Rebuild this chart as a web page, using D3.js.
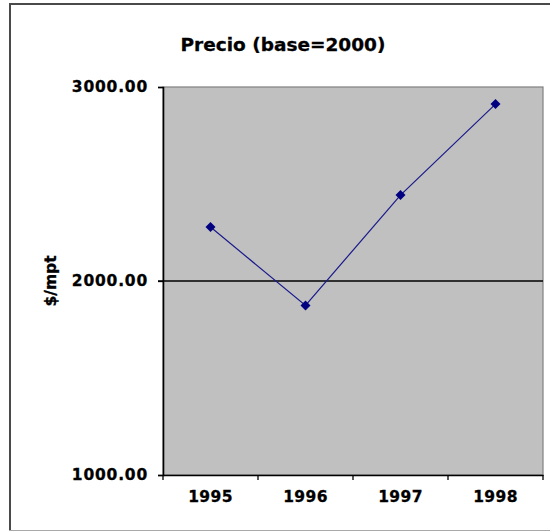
<!DOCTYPE html>
<html>
<head>
<meta charset="utf-8">
<script src="https://cdn.jsdelivr.net/npm/d3@7/dist/d3.min.js"></script>
<style>
  html, body { margin: 0; padding: 0; background: #ffffff; }
  svg { display: block; }
</style>
</head>
<body>
<svg id="chart" width="550" height="531"></svg>
<script>
const categories = ["1995", "1996", "1997", "1998"];
const values = [2278, 1874, 2443, 2912];
const yTicks = [1000, 2000, 3000];
const gridValues = [2000];
const title = "Precio (base=2000)";
const yTitle = "$/mpt";

const svg = d3.select("#chart");
const W = 550, H = 531;
const margin = { left: 163, top: 87, right: 7, bottom: 56 };
const plotW = W - margin.left - margin.right;
const plotH = H - margin.top - margin.bottom;

svg.append("rect").attr("x", 0).attr("y", 0).attr("width", W).attr("height", H).attr("fill", "#ffffff");

// outer frame
svg.append("line").attr("x1", 10).attr("x2", 10).attr("y1", 3).attr("y2", 530)
  .attr("stroke", "#4a4a4a").attr("stroke-width", 2);
svg.append("line").attr("x1", 9).attr("x2", 560).attr("y1", 4).attr("y2", 4)
  .attr("stroke", "#4a4a4a").attr("stroke-width", 2);
svg.append("line").attr("x1", 9).attr("x2", 560).attr("y1", 530.5).attr("y2", 530.5)
  .attr("stroke", "#a8a8a8").attr("stroke-width", 1);

const font = "'DejaVu Sans', sans-serif";

svg.append("text").attr("x", 283).attr("y", 51)
  .attr("text-anchor", "middle")
  .attr("font-family", font).attr("font-weight", "bold").attr("font-size", "18.5px")
  .attr("fill", "#000").attr("stroke", "#000").attr("stroke-width", 0.3).text(title);

const g = svg.append("g").attr("transform", `translate(${margin.left},${margin.top})`);

const x = d3.scaleBand().domain(categories).range([0, plotW]).padding(0);
const y = d3.scaleLinear().domain([1000, 3000]).range([plotH, 0]);

g.append("rect").attr("x", 0).attr("y", 0).attr("width", plotW).attr("height", plotH)
  .attr("fill", "#c0c0c0").attr("stroke", "#808080").attr("stroke-width", 1.2);

// gridline
g.selectAll(".grid").data(gridValues).enter().append("line")
  .attr("x1", -5).attr("x2", plotW)
  .attr("y1", d => y(d)).attr("y2", d => y(d))
  .attr("stroke", "#000").attr("stroke-width", 1.4);

// y axis
const yAxis = g.append("g").call(
  d3.axisLeft(y).tickValues(yTicks).tickSize(5).tickPadding(10).tickFormat(d3.format(".2f"))
);
yAxis.select(".domain").attr("stroke", "#000").attr("stroke-width", 1.6);
yAxis.selectAll(".tick line").attr("stroke", "#000").attr("stroke-width", 1.3);
yAxis.selectAll("text").attr("font-family", font).attr("font-weight", "bold")
  .attr("font-size", "15.5px").attr("fill", "#000").attr("letter-spacing", "0.8px")
  .attr("stroke", "#000").attr("stroke-width", 0.3);

// x axis
const xAxis = g.append("g").attr("transform", `translate(0,${plotH})`).call(
  d3.axisBottom(x).tickSize(0).tickPadding(16)
);
xAxis.select(".domain").attr("stroke", "#000").attr("stroke-width", 1.6);
xAxis.selectAll("text").attr("font-family", font).attr("font-weight", "bold")
  .attr("font-size", "15.5px").attr("fill", "#000").attr("letter-spacing", "0.4px")
  .attr("stroke", "#000").attr("stroke-width", 0.3);
// tick marks at category boundaries
const boundaries = categories.map(c => x(c)).concat([plotW]);
xAxis.selectAll(".bound").data(boundaries).enter().append("line")
  .attr("x1", d => d).attr("x2", d => d).attr("y1", 0).attr("y2", 5)
  .attr("stroke", "#000").attr("stroke-width", 1.3);

// y title
svg.append("text")
  .attr("transform", `translate(56,${margin.top + plotH / 2}) rotate(-90)`)
  .attr("text-anchor", "middle")
  .attr("font-family", font).attr("font-weight", "bold").attr("font-size", "15.5px")
  .attr("fill", "#000").attr("stroke", "#000").attr("stroke-width", 0.3).text(yTitle);

// line
const data = categories.map((c, i) => ({ c, v: values[i] }));
const line = d3.line().x(d => x(d.c) + x.bandwidth() / 2).y(d => y(d.v));
g.append("path").datum(data).attr("d", line)
  .attr("fill", "none").attr("stroke", "#1a1a8c").attr("stroke-width", 1.2);

// markers
g.selectAll(".pt").data(data).enter().append("path")
  .attr("transform", d => `translate(${x(d.c) + x.bandwidth() / 2},${y(d.v)})`)
  .attr("d", d3.symbol().type(d3.symbolDiamond2).size(64)())
  .attr("fill", "#000080");
</script>
</body>
</html>
